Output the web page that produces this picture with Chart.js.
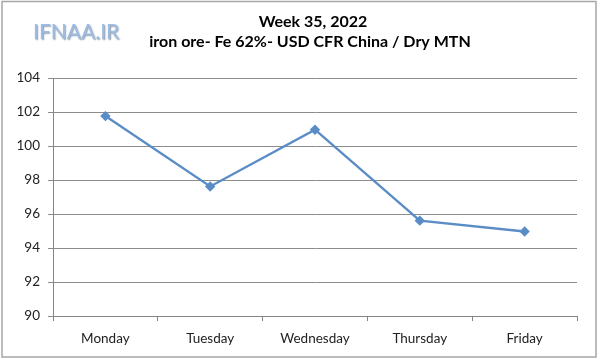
<!DOCTYPE html>
<html>
<head>
<meta charset="utf-8">
<script src="https://cdn.jsdelivr.net/npm/chart.js@4"></script>
<style>
  html, body { margin: 0; padding: 0; background: #fff; }
  #wrap { width: 600px; height: 361px; }
</style>
</head>
<body>
<div id="wrap"><canvas id="ironChart" width="600" height="361"></canvas></div>
<script>
// data
const days = ["Monday", "Tuesday", "Wednesday", "Thursday", "Friday"];
const prices = [101.76, 97.62, 100.96, 95.61, 94.97];
const yTicks = [90, 92, 94, 96, 98, 100, 102, 104];
const titleLines = ["Week 35, 2022", "iron ore- Fe 62%- USD CFR China / Dry MTN"];
const logoText = "IFNAA.IR";

const FONT = "Lato, 'Open Sans', sans-serif";

// frame, logo and title
const decor = {
  id: "decor",
  beforeDraw(chart) {
    const c = chart.ctx;
    c.save();
    c.fillStyle = "#fff";
    c.fillRect(0, 0, 600, 361);
    c.strokeStyle = "#a6a6a6";
    c.lineWidth = 1.5;
    c.strokeRect(2, 1.5, 594, 355.5);
    c.restore();
  },
  afterDraw(chart) {
    const c = chart.ctx;
    c.save();
    c.textAlign = "center";
    c.textBaseline = "middle";
    c.fillStyle = "#000";
    c.font = "bold 16px " + FONT;
    c.fillText(titleLines[0], 313, 22);
    c.fillText(titleLines[1], 310, 42);

    // logo with a soft embossed look
    c.font = "21px " + FONT;
    c.textAlign = "left";
    c.shadowColor = "rgba(60,80,110,0.6)";
    c.shadowOffsetX = 1;
    c.shadowOffsetY = 1.5;
    c.shadowBlur = 1.5;
    c.fillStyle = "#9dbce4";
    c.fillText(logoText, 33, 32);
    c.restore();
  }
};

new Chart(document.getElementById("ironChart"), {
  type: "line",
  data: {
    labels: days,
    datasets: [{
      data: prices,
      borderColor: "#5a8cc6",
      backgroundColor: "#5a8cc6",
      borderWidth: 2.4,
      tension: 0,
      pointStyle: "rectRot",
      pointRadius: 3.5,
      pointHoverRadius: 3.5
    }]
  },
  options: {
    responsive: false,
    animation: false,
    layout: { padding: { top: 78, right: 23, bottom: 0, left: 0 } },
    plugins: {
      legend: { display: false },
      tooltip: { enabled: false }
    },
    scales: {
      x: {
        offset: true,
        afterFit: s => { s.height = 45; },
        grid: {
          offset: true,
          drawOnChartArea: false,
          drawTicks: true,
          tickLength: 5,
          color: "#868686"
        },
        border: { color: "#868686", width: 1 },
        ticks: {
          color: "#222",
          font: { family: FONT, size: 13.5 },
          padding: 10,
          maxRotation: 0
        }
      },
      y: {
        min: 90,
        max: 104,
        afterFit: s => { s.width = 53; },
        afterBuildTicks: s => { s.ticks = yTicks.map(v => ({ value: v })); },
        grid: {
          color: "#8c8c8c",
          lineWidth: 1,
          tickLength: 5
        },
        border: { color: "#868686", width: 1 },
        ticks: {
          color: "#222",
          font: { family: FONT, size: 13.5 },
          padding: 8
        }
      }
    }
  },
  plugins: [decor]
});
</script>
</body>
</html>
